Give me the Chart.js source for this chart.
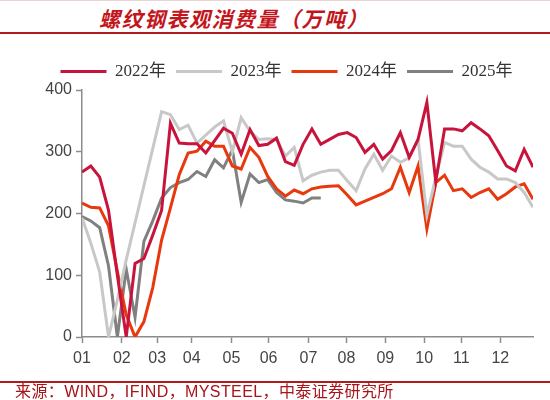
<!DOCTYPE html>
<html>
<head>
<meta charset="utf-8">
<script src="https://cdn.jsdelivr.net/npm/chart.js@4.4.1/dist/chart.umd.min.js"></script>
<style>
    body { margin: 0; width: 550px; height: 400px; background: #fff; position: relative; overflow: hidden; }
    #titulo {
        position: absolute; left: 4px; top: 4px; width: 460px; text-align: center;
        font-family: "Noto Sans CJK SC", sans-serif; font-weight: bold; font-style: italic;
        font-size: 21px; line-height: 28px; color: #c3161c; letter-spacing: 1.5px;
    }
    .linha { position: absolute; left: 0; width: 550px; background: #b01c1c; }
    #fonte {
        position: absolute; left: 15px; top: 384px;
        font-family: "Liberation Sans", "Noto Sans CJK SC", sans-serif;
        font-size: 16px; line-height: 16px; color: #a8141a; letter-spacing: 0.4px;
    }
    #grafico-box { position: absolute; left: 0; top: 53px; width: 550px; height: 333px; }
</style>
</head>
<body>
<div class="linha" style="top:0;height:1px;background:#ecd4d4"></div>
<div id="titulo">螺纹钢表观消费量（万吨）</div>
<div class="linha" style="top:32px;height:2px"></div>
<div id="grafico-box"><canvas id="grafico"></canvas></div>
<div class="linha" style="top:381px;height:2px"></div>
<div id="fonte">来源：WIND，IFIND，MYSTEEL，中泰证券研究所</div>

<script>
// eixo x: semanas do ano (0..51), rótulos nos inícios de cada mês
const mesesLabels = ['01', '02', '03', '04', '05', '06', '07', '08', '09', '10', '11', '12'];
const mesesSemana = [0, 4.5, 8.5, 12.4, 16.9, 21.1, 25.6, 29.9, 34.3, 38.7, 42.9, 47.3];
const yTicks = [0, 100, 200, 300, 400];

const anos = ['2022年', '2023年', '2024年', '2025年'];

// consumo semanal (万吨)
const dados2022 = [267, 277, 259, 205, 100, 0, 119, 127, 165, 205, 346, 314, 313, 313, 298, 318,
    338, 330, 296, 336, 310, 312, 322, 284, 278, 312, 337, 312, 320, 328, 331, 323, 299, 312,
    288, 302, 331, 291, 320, 380, 252, 337, 337, 334, 347, 337, 326, 302, 277, 269, 304, 275];
const dados2023 = [193, 152, 105, 0, 60, 125, 185, 245, 305, 365, 360, 336, 343, 314, 327, 340,
    350, 300, 355, 333, 320, 321, 320, 293, 307, 253, 262, 267, 270, 270, 253, 237, 272, 296,
    270, 293, 283, 290, 320, 197, 258, 315, 309, 309, 288, 275, 267, 256, 256, 250, 234, 210];
const dados2024 = [217, 210, 209, 180, 106, 36, 0, 25, 80, 157, 209, 263, 298, 301, 317, 309,
    309, 277, 272, 307, 291, 260, 240, 228, 238, 232, 240, 243, 244, 245, 230, 214, 220, 226,
    232, 240, 275, 234, 277, 175, 250, 262, 237, 240, 226, 234, 240, 223, 232, 243, 248, 223];
const dados2025 = [195, 188, 177, 115, 0, 110, 32, 155, 188, 225, 242, 250, 255, 268, 260, 287,
    274, 303, 218, 264, 250, 255, 234, 222, 220, 217, 225, 225];

const cores = ['#c8143c', '#c8c8c8', '#e8380d', '#808080'];

function serie(valores) {
    return valores.map((v, i) => ({ x: i, y: v }));
}

const ctx = document.getElementById('grafico').getContext('2d');
const grafico = new Chart(ctx, {
    type: 'line',
    data: {
        datasets: [dados2022, dados2023, dados2024, dados2025].map((d, i) => ({
            label: anos[i],
            data: serie(d),
            borderColor: cores[i],
            backgroundColor: cores[i],
            borderWidth: 3,
            pointRadius: 0,
            tension: 0
        }))
    },
    options: {
        responsive: true,
        maintainAspectRatio: false,
        animation: false,
        layout: { padding: { left: 40, right: 17, top: 0, bottom: 0 } },
        plugins: {
            tooltip: { enabled: false },
            legend: {
                position: 'top',
                labels: {
                    usePointStyle: true,
                    pointStyle: 'line',
                    pointStyleWidth: 46,
                    padding: 10,
                    color: '#333',
                    font: { family: '"Liberation Serif", "Noto Sans CJK SC", serif', size: 17 }
                }
            }
        },
        scales: {
            x: {
                type: 'linear',
                min: 0,
                max: 51,
                afterBuildTicks: (s) => { s.ticks = mesesSemana.map(v => ({ value: v })); },
                afterFit: (s) => { s.height = 49; },
                ticks: {
                    autoSkip: false,
                    maxRotation: 0,
                    padding: 6,
                    color: '#444',
                    font: { family: '"Liberation Sans", sans-serif', size: 16 },
                    callback: (v, i) => mesesLabels[i]
                },
                grid: { drawOnChartArea: false, drawTicks: true, tickLength: 6, tickColor: '#8c8c8c', tickWidth: 1.5 },
                border: { color: '#8c8c8c', width: 1.5 }
            },
            y: {
                min: 0,
                max: 400,
                afterBuildTicks: (s) => { s.ticks = yTicks.map(v => ({ value: v })); },
                afterFit: (s) => { s.width = 42; },
                ticks: {
                    padding: 4,
                    color: '#444',
                    font: { family: '"Liberation Sans", sans-serif', size: 16 }
                },
                grid: { drawOnChartArea: false, drawTicks: true, tickLength: 6, tickColor: '#8c8c8c', tickWidth: 1.5 },
                border: { color: '#8c8c8c', width: 1.5 }
            }
        }
    }
});
</script>
</body>
</html>
